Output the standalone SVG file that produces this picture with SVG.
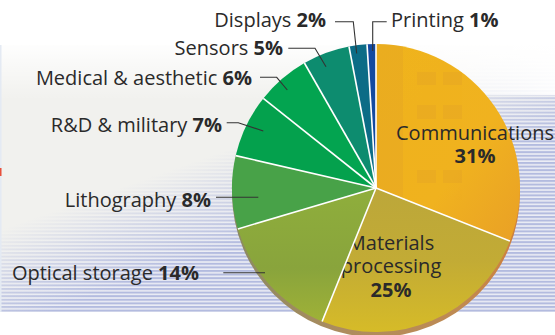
<svg xmlns="http://www.w3.org/2000/svg" width="555" height="335" viewBox="0 0 555 335">
<defs>
<style>
.lbl{font-family:"Open Sans","Noto Sans","Liberation Sans",sans-serif;font-size:20px;fill:#2a2a2a}
.b{font-weight:bold}
.lead{fill:none;stroke:#333;stroke-width:1.1}
.sep{stroke:#fff;stroke-width:1.6;fill:none}
</style>
<pattern id="stripes" patternUnits="userSpaceOnUse" x="0" y="0" width="20" height="3.6">
<rect x="0" y="0" width="20" height="3.6" fill="#eceef5"/>
<rect x="0" y="0" width="20" height="2" fill="#b3bbdf"/>
</pattern>
<linearGradient id="fadeOver" x1="0.33" y1="0.451" x2="0.5087" y2="0.6951">
<stop offset="0" stop-color="#f1f1ee" stop-opacity="1"/>
<stop offset="0.5" stop-color="#f1f1ee" stop-opacity="0.45"/>
<stop offset="1" stop-color="#f1f1ee" stop-opacity="0"/>
</linearGradient>
<linearGradient id="topfade" x1="0" y1="0" x2="0" y2="1">
<stop offset="0" stop-color="#fff" stop-opacity="1"/>
<stop offset="1" stop-color="#fff" stop-opacity="0"/>
</linearGradient>
<linearGradient id="rightwhite" x1="0" y1="0" x2="1" y2="0">
<stop offset="0" stop-color="#fff" stop-opacity="0"/>
<stop offset="0.55" stop-color="#fff" stop-opacity="0"/>
<stop offset="1" stop-color="#fff" stop-opacity="0.9"/>
</linearGradient>
<linearGradient id="comm" x1="0" y1="0" x2="1" y2="1">
<stop offset="0" stop-color="#efb41d"/>
<stop offset="0.6" stop-color="#f0b21f"/>
<stop offset="1" stop-color="#e9a026"/>
</linearGradient>
<linearGradient id="mat" x1="0" y1="0" x2="0" y2="1">
<stop offset="0" stop-color="#bca73a"/>
<stop offset="0.5" stop-color="#c2ab35"/>
<stop offset="1" stop-color="#d6bb28"/>
</linearGradient>
<linearGradient id="opt" x1="0" y1="0" x2="0" y2="1">
<stop offset="0" stop-color="#8fae3c"/>
<stop offset="0.6" stop-color="#89a43c"/>
<stop offset="1" stop-color="#9fb137"/>
</linearGradient>
<linearGradient id="rim" x1="0" y1="0" x2="1" y2="0">
<stop offset="0" stop-color="#8a8a62"/>
<stop offset="0.4" stop-color="#ae8c5e"/>
<stop offset="0.8" stop-color="#c08a52"/>
<stop offset="1" stop-color="#cf7f3a"/>
</linearGradient>
<clipPath id="commClip">
<path d="M376,188 L376,44 A144,144 0 0 1 509.9,241 Z"/>
</clipPath>
</defs>

<g id="background">
<rect width="555" height="335" fill="#fff"/>
<rect x="0" y="45" width="555" height="267" fill="url(#stripes)"/>
<rect x="0" y="45" width="555" height="267" fill="url(#fadeOver)"/>
<rect x="0" y="40" width="555" height="60" fill="url(#topfade)"/>
<rect x="0" y="45" width="555" height="50" fill="url(#rightwhite)"/>
<rect x="0" y="45" width="1.5" height="267" fill="#e4eaf3"/>
<rect x="0" y="168" width="1.5" height="8" fill="#e8503a"/>
</g>

<g id="pie-rim">
<circle cx="376" cy="193" r="144" fill="url(#rim)"/>
</g>

<g id="communications">
<path d="M376,188 L376,44 A144,144 0 0 1 509.9,241 Z" fill="url(#comm)"/>
<g clip-path="url(#commClip)" fill="#d9962a" opacity="0.22">
<rect x="376" y="40" width="27" height="160"/>
<rect x="417" y="72" width="19" height="13"/>
<rect x="443" y="72" width="19" height="13"/>
<rect x="417" y="105" width="19" height="14"/>
<rect x="443" y="105" width="19" height="14"/>
<rect x="417" y="170" width="19" height="13"/>
<rect x="443" y="170" width="19" height="13"/>
</g>
<text class="lbl" x="475" y="140" text-anchor="middle">Communications</text>
<text class="lbl b" x="475" y="163" text-anchor="middle">31%</text>
</g>

<g id="materials-processing">
<path d="M376,188 L509.9,241 A144,144 0 0 1 322.1,321.5 Z" fill="url(#mat)"/>
<text class="lbl" x="391" y="250" text-anchor="middle">Materials</text>
<text class="lbl" x="391" y="273" text-anchor="middle">processing</text>
<text class="lbl b" x="391" y="297" text-anchor="middle">25%</text>
</g>

<g id="optical-storage">
<path d="M376,188 L322.1,321.5 A144,144 0 0 1 237.9,228.9 Z" fill="url(#opt)"/>
<text class="lbl" x="199" y="280" text-anchor="end">Optical storage <tspan class="b">14%</tspan></text>
</g>

<g id="lithography">
<path d="M376,188 L237.9,228.9 A144,144 0 0 1 235.7,155.6 Z" fill="#48a248"/>
<text class="lbl" x="211" y="207" text-anchor="end">Lithography <tspan class="b">8%</tspan></text>
</g>

<g id="rd-military">
<path d="M376,188 L235.7,155.6 A144,144 0 0 1 263.3,98.4 Z" fill="#04a14d"/>
<text class="lbl" x="222" y="132" text-anchor="end">R&amp;D &amp; military <tspan class="b">7%</tspan></text>
</g>

<g id="medical-aesthetic">
<path d="M376,188 L263.3,98.4 A144,144 0 0 1 304.4,63 Z" fill="#03a450"/>
<text class="lbl" x="252" y="85" text-anchor="end">Medical &amp; aesthetic <tspan class="b">6%</tspan></text>
</g>

<g id="sensors">
<path d="M376,188 L304.4,63 A144,144 0 0 1 349,46.5 Z" fill="#0d8c6f"/>
<text class="lbl" x="283" y="55" text-anchor="end">Sensors <tspan class="b">5%</tspan></text>
</g>

<g id="displays">
<path d="M376,188 L349,46.5 A144,144 0 0 1 367,44.3 Z" fill="#0c6c86"/>
<text class="lbl" x="326" y="27" text-anchor="end">Displays <tspan class="b">2%</tspan></text>
</g>

<g id="printing">
<path d="M376,188 L367,44.3 A144,144 0 0 1 376,44 Z" fill="#1349a0"/>
<text class="lbl" x="391" y="27">Printing <tspan class="b">1%</tspan></text>
</g>

<g id="connectors">
<g class="sep">
<line x1="376" y1="188" x2="376" y2="44"/>
<line x1="376" y1="188" x2="509.9" y2="241"/>
<line x1="376" y1="188" x2="322.1" y2="321.5"/>
<line x1="376" y1="188" x2="237.9" y2="228.9"/>
<line x1="376" y1="188" x2="235.7" y2="155.6"/>
<line x1="376" y1="188" x2="263.3" y2="98.4"/>
<line x1="376" y1="188" x2="304.4" y2="63"/>
<line x1="376" y1="188" x2="349" y2="46.5"/>
<line x1="376" y1="188" x2="367" y2="44.3"/>
</g>
<polyline class="lead" points="335,21.7 353.3,21.7 356.7,53.5"/>
<polyline class="lead" points="386.7,21.7 372.7,21.7 372.7,51"/>
<polyline class="lead" points="288.3,48.3 315,48.3 326,66.7"/>
<polyline class="lead" points="260,77.3 276.7,77.3 287.3,90"/>
<polyline class="lead" points="226.7,122.7 238.3,122.7 263.3,131"/>
<line class="lead" x1="216" y1="197.3" x2="258.3" y2="197.3"/>
<line class="lead" x1="223.3" y1="272.7" x2="265" y2="272.7"/>
</g>
</svg>
